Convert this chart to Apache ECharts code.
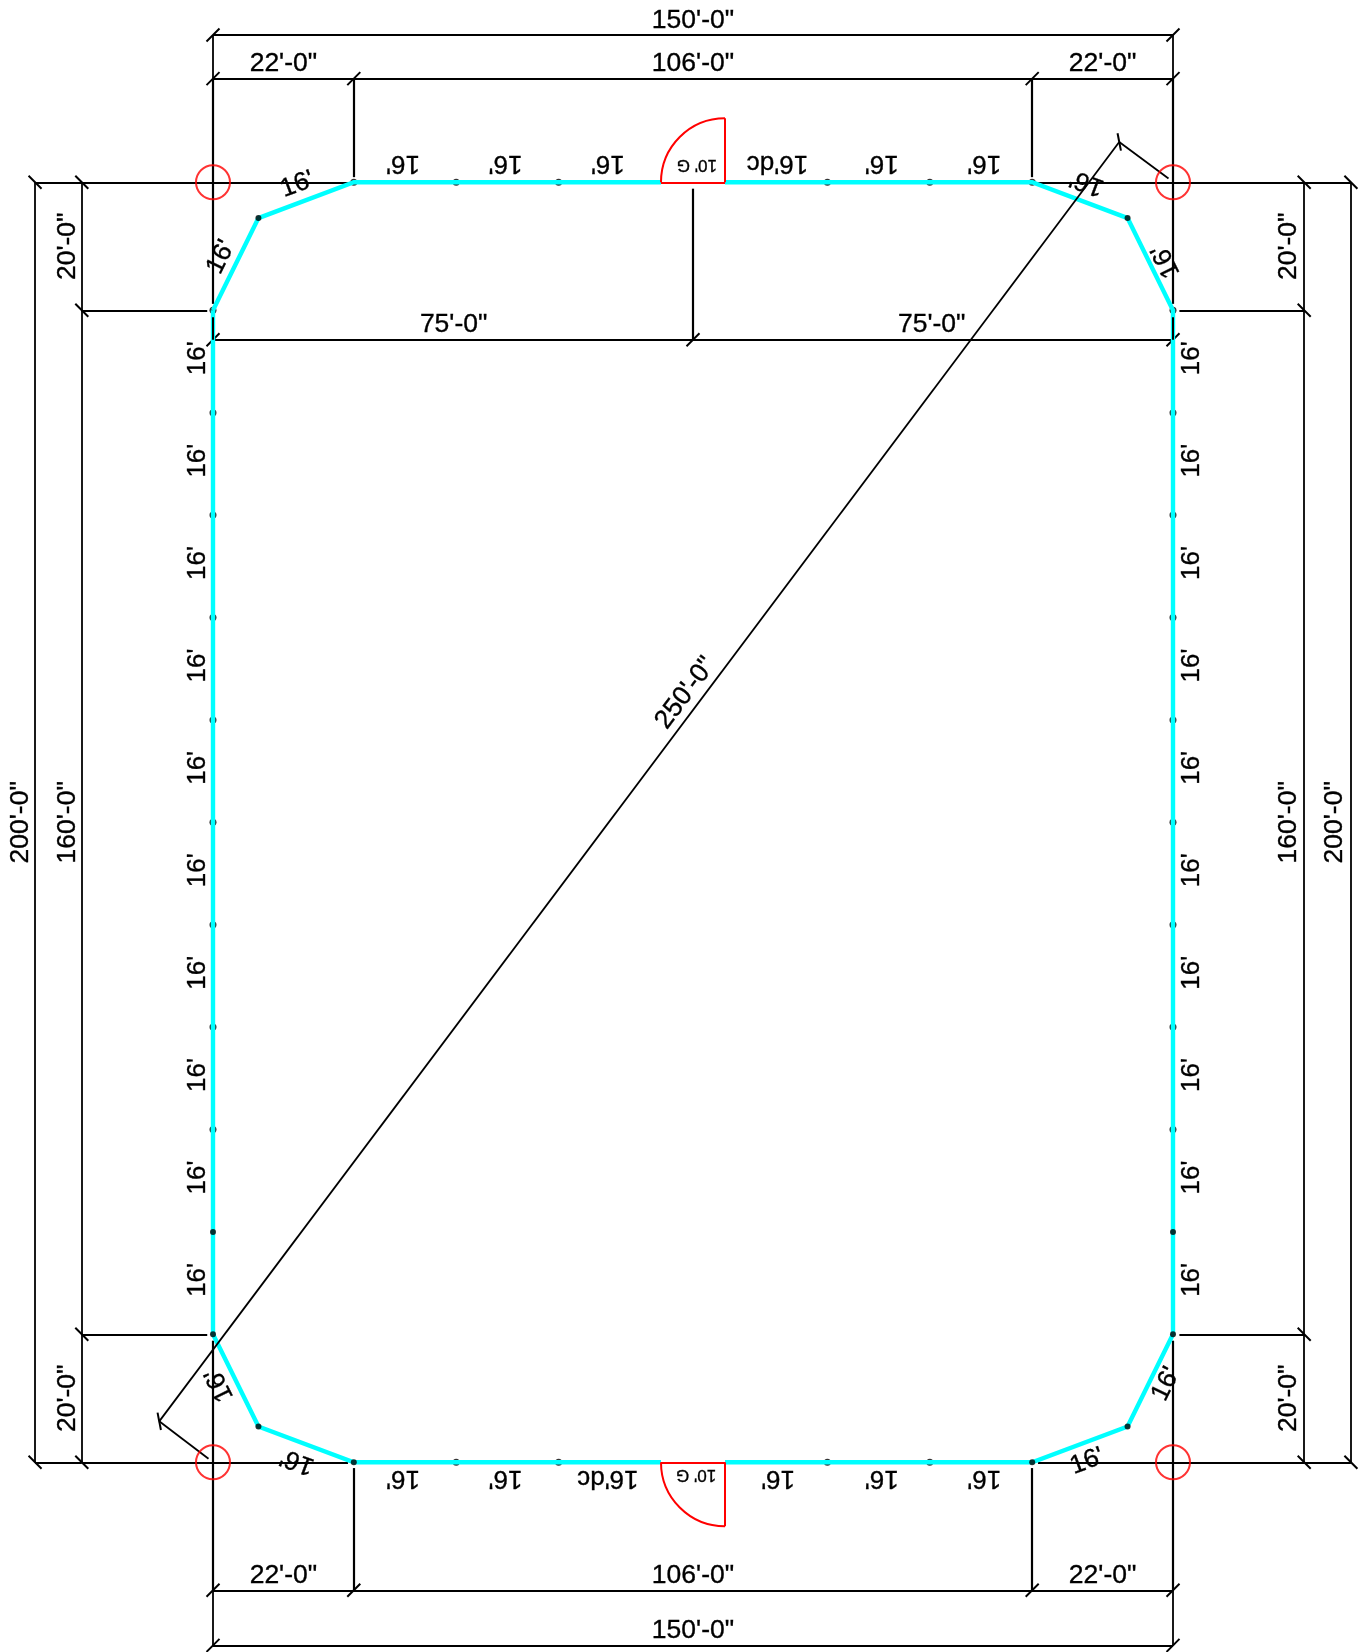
<!DOCTYPE html>
<html>
<head>
<meta charset="utf-8">
<style>html,body{margin:0;padding:0;background:#fff}#c{width:1365px;height:1652px}</style>
<script src="https://cdn.jsdelivr.net/npm/echarts@6/dist/echarts.min.js"></script>
</head>
<body>
<div id="c"></div>
<script>
// All lengths are feet on the site plan; origin is the lower-left corner of the 150' x 200' lot.
const fencePath = [[0,180],[7.1,194.4],[22,200],[70,200],[null,null],[80,200],[128,200],[142.9,194.4],[150,180],[150,20],[142.9,5.6],[128,0],[80,0],[null,null],[70,0],[22,0],[7.1,5.6],[0,20],[0,180]];
const postsOnTop = [[7.1,194.4],[142.9,194.4],[7.1,5.6],[142.9,5.6],[0,20],[150,20],[0,36],[150,36],[22,0],[128,0]];
const postsBelow = [[22,200],[38,200],[54,200],[96,200],[112,200],[128,200],[38,0],[54,0],[96,0],[112,0],[0,180],[0,164],[0,148],[0,132],[0,116],[0,100],[0,84],[0,68],[0,52],[150,180],[150,164],[150,148],[150,132],[150,116],[150,100],[150,84],[150,68],[150,52]];
const cornerPins = [[0,200],[150,200],[0,0],[150,0]];
const gates = [[80,200,10,90,180],[80,0,10,180,270]];
const gateEdges = [[[70,200],[80,200]],[[80,200],[80,210]],[[70,0],[80,0]],[[80,0],[80,-10]]];
const dimLines = [
 [[0,223],[150,223]],[[0,216.2],[150,216.2]],[[0,175.4],[150,175.4]],
 [[0,-20],[150,-20]],[[0,-28.6],[150,-28.6]],
 [[-27.8,0],[-27.8,200]],[[-20.5,0],[-20.5,200]],[[170.5,0],[170.5,200]],[[177.8,0],[177.8,200]],
 [[-27.8,200],[-20.5,200]],[[170.5,200],[177.8,200]],[[-27.8,0],[-20.5,0]],[[170.5,0],[177.8,0]],
 [[0,223],[0,216.2]],[[150,223],[150,216.2]],[[0,-20],[0,-28.6]],[[150,-20],[150,-28.6]]
];
const extensionLines = [
 [[0,216.2],[0,181]],[[150,216.2],[150,181]],[[22,216.2],[22,200.8]],[[128,216.2],[128,200.8]],
 [[0,19],[0,-20]],[[150,19],[150,-20]],[[22,-0.9],[22,-20]],[[128,-0.9],[128,-20]],
 [[75,199],[75,175.4]],
 [[-20.5,200],[21.1,200]],[[128.9,200],[170.5,200]],[[-20.5,0],[21.1,0]],[[128.9,0],[170.5,0]],
 [[-20.5,180],[-0.9,180]],[[151,180],[170.5,180]],[[-20.5,20],[-0.9,20]],[[151,20],[170.5,20]]
];
const diagonalLines = [[[141.6,206.3],[-8.4,6.4]],[[141.6,206.3],[149.3,200.6]],[[-8.4,6.4],[-0.7,0.56]]];
const horizTicks = [[0,223],[150,223],[0,216.2],[22,216.2],[128,216.2],[150,216.2],[0,175.4],[75,175.4],[150,175.4],[0,-20],[22,-20],[128,-20],[150,-20],[0,-28.6],[150,-28.6]];
const vertTicks = [[-27.8,0],[-27.8,200],[-20.5,0],[-20.5,20],[-20.5,180],[-20.5,200],[170.5,0],[170.5,20],[170.5,180],[170.5,200],[177.8,0],[177.8,200]];
const diagTicks = [[141.6,206.3],[-8.4,6.4]];
const shortOverFence = [[[0,178.9],[0,175.4]],[[150,178.9],[150,175.4]]];
// [text, x, y, reading angle in degrees]
const dimLabels = [
 ["150'-0\"",75,225.4,0],["22'-0\"",11,218.7,0],["106'-0\"",75,218.7,0],["22'-0\"",139,218.7,0],
 ["75'-0\"",37.6,177.9,0],["75'-0\"",112.3,177.9,0],
 ["22'-0\"",11,-17.6,0],["106'-0\"",75,-17.6,0],["22'-0\"",139,-17.6,0],["150'-0\"",75,-26.2,0],
 ["20'-0\"",-22.9,190,90],["160'-0\"",-22.9,100,90],["20'-0\"",-22.9,10,90],["200'-0\"",-30.2,100,90],
 ["20'-0\"",167.9,190,90],["160'-0\"",167.9,100,90],["20'-0\"",167.9,10,90],["200'-0\"",175.1,100,90],
 ["250'-0\"",73.7,120.3,53.13]
];
const spanLabels = [
 ["16'",-2.55,172.5,90],["16'",-2.55,156.5,90],["16'",-2.55,140.5,90],["16'",-2.55,124.5,90],["16'",-2.55,108.5,90],["16'",-2.55,92.5,90],["16'",-2.55,76.5,90],["16'",-2.55,60.5,90],["16'",-2.55,44.5,90],["16'",-2.55,28.5,90],
 ["16'",152.8,172.5,90],["16'",152.8,156.5,90],["16'",152.8,140.5,90],["16'",152.8,124.5,90],["16'",152.8,108.5,90],["16'",152.8,92.5,90],["16'",152.8,76.5,90],["16'",152.8,60.5,90],["16'",152.8,44.5,90],["16'",152.8,28.5,90],
 ["16'",13.1,199.8,20.5],["16'",1.1,188.4,63.8],["16'",136.5,199.8,159.5],["16'",148.75,187.6,116.2],
 ["16'",13.1,0,159.5],["16'",0.85,12,116.2],["16'",136.5,0.3,20.5],["16'",148.75,12.3,63.8],
 ["16'",29.7,202.8,180],["16'",45.7,202.8,180],["16'",61.7,202.8,180],["16'dc",88.2,202.8,180],["16'",104.5,202.8,180],["16'",120.5,202.8,180],
 ["16'",29.7,-2.6,180],["16'",45.7,-2.6,180],["16'dc",61.7,-2.6,180],["16'",88.3,-2.6,180],["16'",104.5,-2.6,180],["16'",120.5,-2.6,180]
];
const gateLabels = [["10' G",75.6,202.5,180],["10' G",75.5,-2.1,180]];

const FONT = '"Liberation Sans", Arial, sans-serif';
const lineSeries = (data, width, z) => ({
  type:'lines', coordinateSystem:'cartesian2d', polyline:false, silent:true, z,
  data:data.map(c=>({coords:c})), lineStyle:{color:'#000',width,opacity:1,curveness:0}, effect:{show:false}
});
const tickSeries = (data, dx, dy, z) => ({
  type:'custom', coordinateSystem:'cartesian2d', silent:true, z, clip:false, data,
  encode:{x:0,y:1},
  renderItem:(p,api)=>{
    const c = api.coord([api.value(0),api.value(1)]);
    return {type:'line',shape:{x1:c[0]-dx,y1:c[1]-dy,x2:c[0]+dx,y2:c[1]+dy},style:{stroke:'#000',lineWidth:2,fill:null}};
  }
});
const textSeries = (rows, size, z) => ({
  type:'custom', coordinateSystem:'cartesian2d', silent:true, z, clip:false,
  data:rows.map(r=>[r[1],r[2]]), encode:{x:0,y:1},
  renderItem:(p,api)=>{
    const r = rows[p.dataIndex];
    const c = api.coord([api.value(0),api.value(1)]);
    const t = r[3]*Math.PI/180;
    return {type:'text',x:c[0]+Math.sin(t)*1.2,y:c[1]+Math.cos(t)*1.2,rotation:t,
      style:{text:r[0],font:size+'px '+FONT,fill:'#000',stroke:'#000',lineWidth:0.35,align:'center',verticalAlign:'middle'}};
  }
});
const chart = echarts.init(document.getElementById('c'),null,{renderer:'canvas'});
chart.setOption({
  animation:false, backgroundColor:'#fff',
  grid:{left:0,right:0,top:0,bottom:0,containLabel:false},
  xAxis:{type:'value',min:-33.28,max:180,show:false,splitLine:{show:false}},
  yAxis:{type:'value',min:-29.64,max:228.48,show:false,splitLine:{show:false}},
  tooltip:{show:false},
  series:[
    lineSeries(dimLines,1.8,1),
    lineSeries(extensionLines,2.2,1),
    tickSeries(horizTicks,6.5,-6.5,2),
    tickSeries(vertTicks,6.5,6.5,2),
    {type:'scatter',data:postsBelow,symbol:'circle',symbolSize:7,itemStyle:{color:'#000'},silent:true,z:3},
    {type:'line',data:fencePath,symbol:'none',connectNulls:false,lineStyle:{color:'#00FFFF',width:4.4,join:'miter',cap:'butt'},silent:true,z:4},
    lineSeries(shortOverFence,2,5),
    lineSeries(diagonalLines,1.8,5),
    tickSeries(diagTicks,-1.7,-8.7,5),
    {type:'scatter',data:postsOnTop,symbol:'circle',symbolSize:6,itemStyle:{color:'#000'},silent:true,z:6},
    {type:'scatter',data:cornerPins,symbol:'circle',symbolSize:34,itemStyle:{color:'rgba(0,0,0,0)',borderColor:'#FF0000',borderWidth:2},silent:true,z:6},
    {type:'lines',coordinateSystem:'cartesian2d',silent:true,z:6,data:gateEdges.map(c=>({coords:c})),lineStyle:{color:'#FF0000',width:2,opacity:1}},
    {type:'custom',coordinateSystem:'cartesian2d',silent:true,z:6,clip:false,data:gates,encode:{x:0,y:1},
      renderItem:(p,api)=>{
        const c = api.coord([api.value(0),api.value(1)]);
        const r = api.size([api.value(2),0])[0];
        return {type:'arc',shape:{cx:c[0],cy:c[1],r,startAngle:-api.value(4)*Math.PI/180,endAngle:-api.value(3)*Math.PI/180,clockwise:true},
          style:{stroke:'#FF0000',lineWidth:2,fill:null}};
      }},
    textSeries(dimLabels,26.5,7),
    textSeries(spanLabels,26,7),
    textSeries(gateLabels,17,7)
  ]
});
</script>
</body>
</html>
